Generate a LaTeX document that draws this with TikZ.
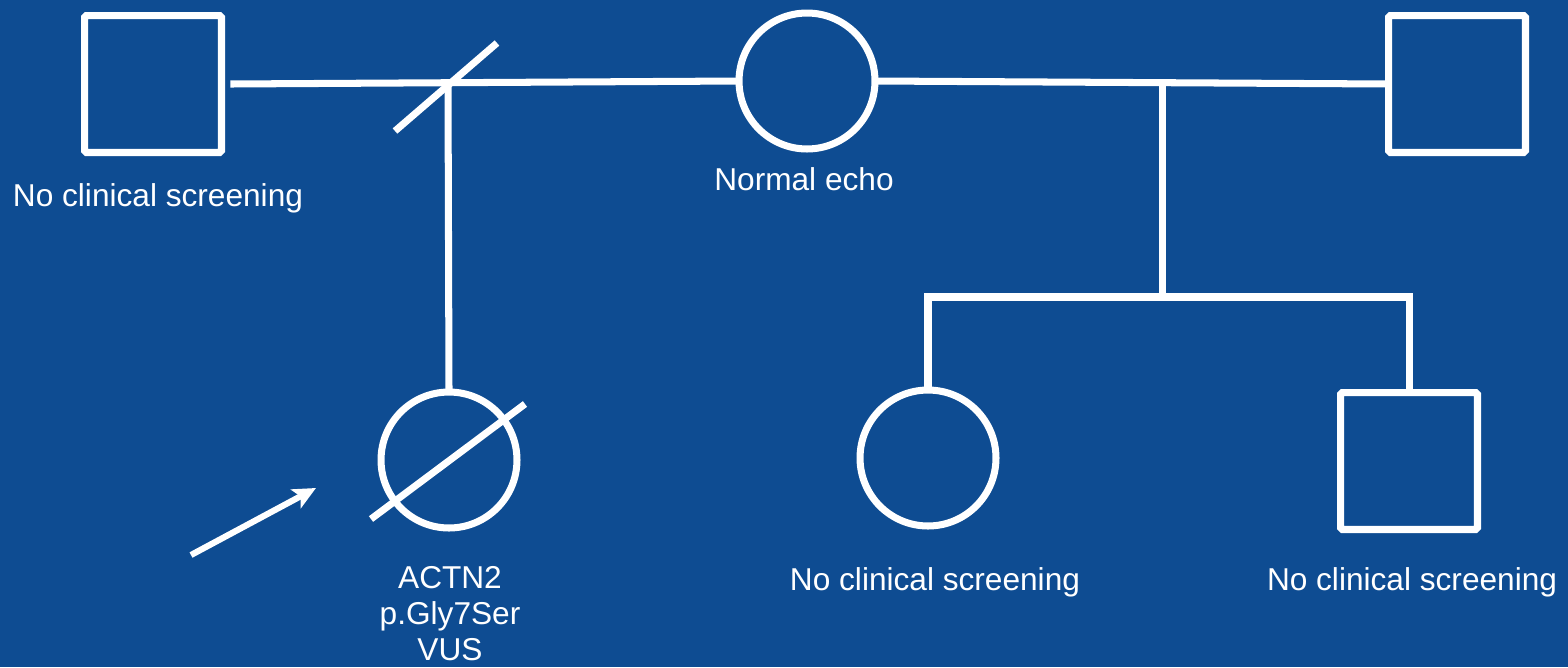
\documentclass[tikz,border=0pt]{standalone}
\usepackage{fontspec}
\setmainfont{Liberation Sans}
\usetikzlibrary{arrows.meta}
\definecolor{bg}{RGB}{14,76,146}
\tikzset{
  sym/.style={draw=white, line width=4pt, inner sep=0pt, outer sep=0pt},
  male/.style={sym, rectangle, rounded corners=1pt, minimum size=2.74cm},
  female/.style={sym, circle, minimum size=2.72cm},
  conn/.style={draw=white, line width=4pt},
  lbl/.style={text=white, font=\fontsize{18}{20.5}\selectfont, align=center, inner sep=0pt}
}
\begin{document}
\begin{tikzpicture}[x=0.02cm, y=-0.02cm]
\path[fill=bg, use as bounding box] (0,0) rectangle (1568,667);
% top generation
\node[male] (gf) at (153,84) {};
\node[female] (mom) at (807,81) {};
\node[male] (sf) at (1457,84) {};
% children
\node[female] (pro) at (449,460) {};
\node[female] (sis) at (928,458) {};
\node[male] (bro) at (1409,461) {};
% unions
\draw[conn] (gf.east) ++(5pt,0) -- (mom.west);
\draw[conn] (mom.east) -- (sf.west);
\coordinate (m1) at (448,83);
\coordinate (m2) at (1162,83);
\coordinate (sib) at (1162,297);
\draw[conn] (m1) -- (pro.north);
\draw[conn] (m2) -- (sib);
\draw[conn] (sis.north) |- (sib) -| (bro.north);
% separation slash
\coordinate (sepA) at (395,131);
\coordinate (sepB) at (497,43);
\draw[conn] (sepA) -- (sepB);
% deceased slash
\coordinate (dA) at (371,519);
\coordinate (dB) at (525,404);
\draw[conn] (dA) -- (dB);
% proband arrow
\coordinate (arA) at (191,555);
\coordinate (arB) at (316,488);
\draw[conn, line width=3.5pt, -{Stealth[length=13pt, width=12pt, inset=3pt]}] (arA) -- (arB);
% labels
\node[lbl] (l1) at (158,198) {No clinical screening};
\node[lbl] (l2) at (804,179) {Normal echo};
\node[lbl] (l3) at (450,614) {ACTN2\\p.Gly7Ser\\VUS};
\node[lbl] (l4) at (935,582) {No clinical screening};
\node[lbl] (l5) at (1412,582) {No clinical screening};
\end{tikzpicture}
\end{document}
